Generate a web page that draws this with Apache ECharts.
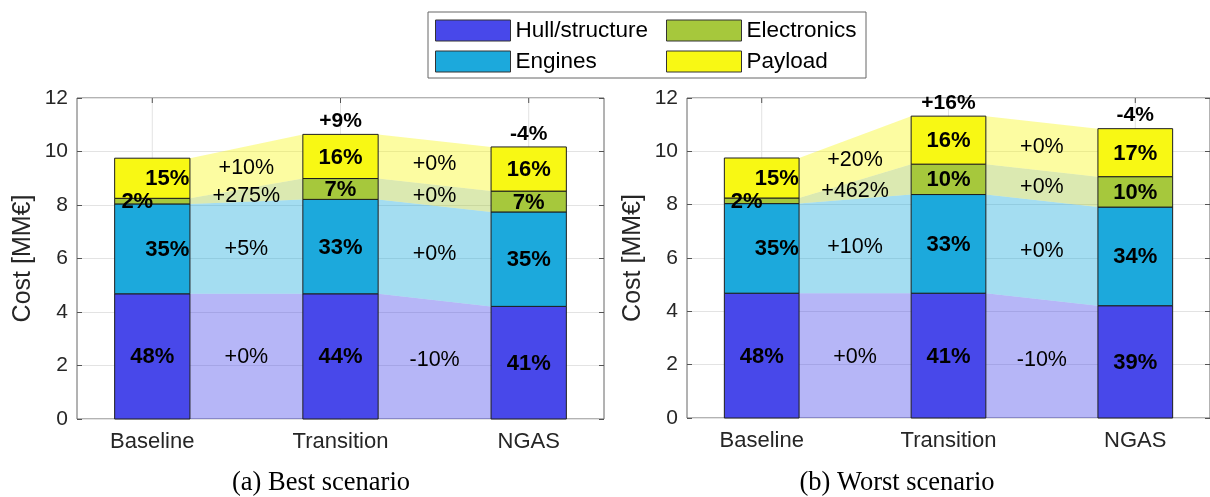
<!DOCTYPE html>
<html><head><meta charset="utf-8">
<script src="https://cdn.jsdelivr.net/npm/echarts@6/dist/echarts.min.js"></script>
<style>html,body{margin:0;padding:0;background:#fff}#c{width:1210px;height:497px}</style>
</head><body><div id="c"></div>
<script>
// ---------- data ----------
const categories = ['Baseline', 'Transition', 'NGAS'];
const components = ['Hull/structure', 'Engines', 'Electronics', 'Payload'];
const captions = ['(a) Best scenario', '(b) Worst scenario'];
const yAxisName = 'Cost [MM€]';

// Best scenario (MM€)
const best_hull        = [4.68, 4.68, 4.21];
const best_engines     = [3.36, 3.53, 3.53];
const best_electronics = [0.21, 0.78, 0.78];
const best_payload     = [1.50, 1.65, 1.65];
// Worst scenario (MM€)
const worst_hull        = [4.68, 4.68, 4.21];
const worst_engines     = [3.36, 3.70, 3.70];
const worst_electronics = [0.21, 1.14, 1.14];
const worst_payload     = [1.50, 1.80, 1.80];

// share labels inside bars
const best_share_hull = ['48%', '44%', '41%'];
const best_share_engines = ['35%', '33%', '35%'];
const best_share_electronics = ['2%', '7%', '7%'];
const best_share_payload = ['15%', '16%', '16%'];
const worst_share_hull = ['48%', '41%', '39%'];
const worst_share_engines = ['35%', '33%', '34%'];
const worst_share_electronics = ['2%', '10%', '10%'];
const worst_share_payload = ['15%', '16%', '17%'];

// change labels between bars (Baseline->Transition, Transition->NGAS)
const best_change_hull = ['+0%', '-10%'];
const best_change_engines = ['+5%', '+0%'];
const best_change_electronics = ['+275%', '+0%'];
const best_change_payload = ['+10%', '+0%'];
const worst_change_hull = ['+0%', '-10%'];
const worst_change_engines = ['+10%', '+0%'];
const worst_change_electronics = ['+462%', '+0%'];
const worst_change_payload = ['+20%', '+0%'];

// total change labels above bars
const best_total_change = ['', '+9%', '-4%'];
const worst_total_change = ['', '+16%', '-4%'];

// ---------- styles ----------
const FONT = '"Liberation Sans", Arial, Helvetica, sans-serif';
const colors = ['#4848EA', '#1CA9DC', '#A6C83C', '#F8F814'];
const bandColors = ['rgba(72,72,234,0.40)', 'rgba(28,169,220,0.40)', 'rgba(166,200,60,0.40)', 'rgba(248,248,20,0.40)'];
const HW = 0.2; // half bar width in x units
// manual label nudges (px) on the Baseline bar, as in the original
const baselineNudge = [0, 15, -15, 15];

const scenarios = [
  { values: [best_hull, best_engines, best_electronics, best_payload],
    shares: [best_share_hull, best_share_engines, best_share_electronics, best_share_payload],
    changes: [best_change_hull, best_change_engines, best_change_electronics, best_change_payload],
    totals: best_total_change },
  { values: [worst_hull, worst_engines, worst_electronics, worst_payload],
    shares: [worst_share_hull, worst_share_engines, worst_share_electronics, worst_share_payload],
    changes: [worst_change_hull, worst_change_engines, worst_change_electronics, worst_change_payload],
    totals: worst_total_change }
];

function stackOf(values) {
  const bottoms = [], tops = [];
  const acc = categories.map(() => 0);
  values.forEach((arr, c) => {
    bottoms[c] = acc.slice();
    arr.forEach((v, i) => { acc[i] += v; });
    tops[c] = acc.slice();
  });
  return { bottoms, tops, totals: acc.slice() };
}

const grids = [
  { left: 77, right: 606, top: 98, bottom: 78 },
  { left: 687, right: -5, top: 98, bottom: 79 }
];

const xAxes = [], yAxes = [], series = [];

scenarios.forEach((sc, g) => {
  const st = stackOf(sc.values);
  xAxes.push({ gridIndex: g, type: 'value', min: 0.6, max: 3.4,
    axisLine: { show: false }, axisTick: { show: false }, axisLabel: { show: false }, splitLine: { show: false } });
  yAxes.push({ gridIndex: g, type: 'value', min: 0, max: 12, interval: 2, position: 'left',
    name: yAxisName, nameLocation: 'middle', nameGap: 41,
    nameTextStyle: { fontSize: 25, color: '#262626', fontFamily: FONT },
    axisLine: { show: false },
    axisTick: { show: true, inside: true, length: 5, lineStyle: { color: '#555' } },
    axisLabel: { fontSize: 21, color: '#262626', fontFamily: FONT, margin: 9 },
    splitLine: { show: true, lineStyle: { color: '#e3e3e3', width: 1 } } });
  yAxes.push({ gridIndex: g, type: 'value', min: 0, max: 12, interval: 2, position: 'right',
    axisLine: { show: false },
    axisTick: { show: true, inside: true, length: 5, lineStyle: { color: '#555' } },
    axisLabel: { show: false }, splitLine: { show: false } });
  const yIdx = g * 2;

  // decorations: vertical grid lines, x ticks, category labels, total change labels
  series.push({
    type: 'custom', xAxisIndex: g, yAxisIndex: yIdx, z: 1, silent: true,
    data: categories.map((_, i) => [i + 1, st.totals[i]]),
    renderItem: (params, api) => {
      const i = params.dataIndex;
      const x = i + 1;
      const pb = api.coord([x, 0]);
      const pt = api.coord([x, 12]);
      const ptot = api.coord([x, st.totals[i]]);
      const children = [
        { type: 'line', shape: { x1: pb[0], y1: pb[1], x2: pt[0], y2: pt[1] }, style: { stroke: '#e3e3e3', lineWidth: 1 } },
        { type: 'line', shape: { x1: pb[0], y1: pb[1], x2: pb[0], y2: pb[1] - 5 }, style: { stroke: '#555', lineWidth: 1 } },
        { type: 'line', shape: { x1: pt[0], y1: pt[1], x2: pt[0], y2: pt[1] + 5 }, style: { stroke: '#555', lineWidth: 1 } },
        { type: 'text', x: pb[0], y: pb[1] + 23, style: { text: categories[i], fontSize: 22, fontFamily: FONT, fill: '#262626', align: 'center', verticalAlign: 'middle' } }
      ];
      if (sc.totals[i]) {
        children.push({ type: 'text', x: ptot[0], y: ptot[1] - 13, z2: 10,
          style: { text: sc.totals[i], fontSize: 21, fontWeight: 'bold', fontFamily: FONT, fill: '#000', align: 'center', verticalAlign: 'middle' } });
      }
      return { type: 'group', children };
    }
  });

  // bands between bars
  const bandItems = [];
  for (let gap = 0; gap < categories.length - 1; gap++) {
    for (let c = 0; c < components.length; c++) bandItems.push([gap, c]);
  }
  series.push({
    type: 'custom', xAxisIndex: g, yAxisIndex: yIdx, z: 2, silent: true,
    data: bandItems.map(([gap, c]) => [gap + 1.5, st.tops[c][gap]]),
    renderItem: (params, api) => {
      const [gap, c] = bandItems[params.dataIndex];
      const x0 = gap + 1, x1 = gap + 2;
      const b0 = st.bottoms[c][gap], t0 = st.tops[c][gap];
      const b1 = st.bottoms[c][gap + 1], t1 = st.tops[c][gap + 1];
      const pts = [api.coord([x0 + HW, b0]), api.coord([x0 + HW, t0]), api.coord([x1 - HW, t1]), api.coord([x1 - HW, b1])];
      const lp = api.coord([(x0 + x1) / 2, ((b0 + t0) / 2 + (b1 + t1) / 2) / 2]);
      return { type: 'group', children: [
        { type: 'polygon', shape: { points: pts }, style: { fill: bandColors[c], stroke: null } },
        { type: 'text', x: lp[0], y: lp[1] + 1, z2: 10, style: { text: sc.changes[c][gap], fontSize: 21.5, fontFamily: FONT, fill: '#000', align: 'center', verticalAlign: 'middle' } }
      ] };
    }
  });

  // stacked bars
  components.forEach((name, c) => {
    series.push({
      name, type: 'custom', xAxisIndex: g, yAxisIndex: yIdx, z: 3,
      itemStyle: { color: colors[c] },
      data: categories.map((_, i) => [i + 1, st.tops[c][i]]),
      renderItem: (params, api) => {
        const i = params.dataIndex;
        const x = i + 1;
        const p0 = api.coord([x - HW, st.tops[c][i]]);
        const p1 = api.coord([x + HW, st.bottoms[c][i]]);
        const pm = api.coord([x, (st.tops[c][i] + st.bottoms[c][i]) / 2]);
        const dx = i === 0 ? baselineNudge[c] : 0;
        return { type: 'group', children: [
          { type: 'rect', shape: { x: p0[0], y: p0[1], width: p1[0] - p0[0], height: p1[1] - p0[1] },
            style: { fill: colors[c], stroke: '#1e1e1e', lineWidth: 1 } },
          { type: 'text', x: pm[0] + dx, y: pm[1] + 1, z2: 10,
            style: { text: sc.shares[c][i], fontSize: 22, fontWeight: 'bold', fontFamily: FONT, fill: '#000', align: 'center', verticalAlign: 'middle' } }
        ] };
      }
    });
  });
});

const chart = echarts.init(document.getElementById('c'), null, { renderer: 'canvas' });
chart.setOption({
  animation: false,
  backgroundColor: '#fff',
  grid: grids.map(gr => Object.assign({ show: true, borderColor: '#666', borderWidth: 1, backgroundColor: 'transparent', containLabel: false }, gr)),
  xAxis: xAxes,
  yAxis: yAxes,
  legend: [
    { data: [components[0], components[1]], orient: 'vertical', left: 435, top: 19, padding: 0,
      itemWidth: 75, itemHeight: 21, itemGap: 8, icon: 'rect', selectedMode: false,
      itemStyle: { borderColor: '#333', borderWidth: 1 },
      textStyle: { fontSize: 22.5, color: '#000', fontFamily: FONT } },
    { data: [components[2], components[3]], orient: 'vertical', left: 666, top: 19, padding: 0,
      itemWidth: 75, itemHeight: 21, itemGap: 8, icon: 'rect', selectedMode: false,
      itemStyle: { borderColor: '#333', borderWidth: 1 },
      textStyle: { fontSize: 22.5, color: '#000', fontFamily: FONT } }
  ],
  graphic: [
    { type: 'rect', z: 0, shape: { x: 428, y: 12, width: 438, height: 66 }, style: { fill: '#fff', stroke: '#666', lineWidth: 1 } },
    { type: 'text', z: 5, x: 321, y: 483, style: { text: captions[0], font: '26.5px "Liberation Serif", "Times New Roman", serif', fill: '#000', align: 'center', verticalAlign: 'middle', textAlign: 'center', textVerticalAlign: 'middle' } },
    { type: 'text', z: 5, x: 897, y: 483, style: { text: captions[1], font: '26.5px "Liberation Serif", "Times New Roman", serif', fill: '#000', align: 'center', verticalAlign: 'middle', textAlign: 'center', textVerticalAlign: 'middle' } }
  ],
  series
});
</script>
</body></html>
